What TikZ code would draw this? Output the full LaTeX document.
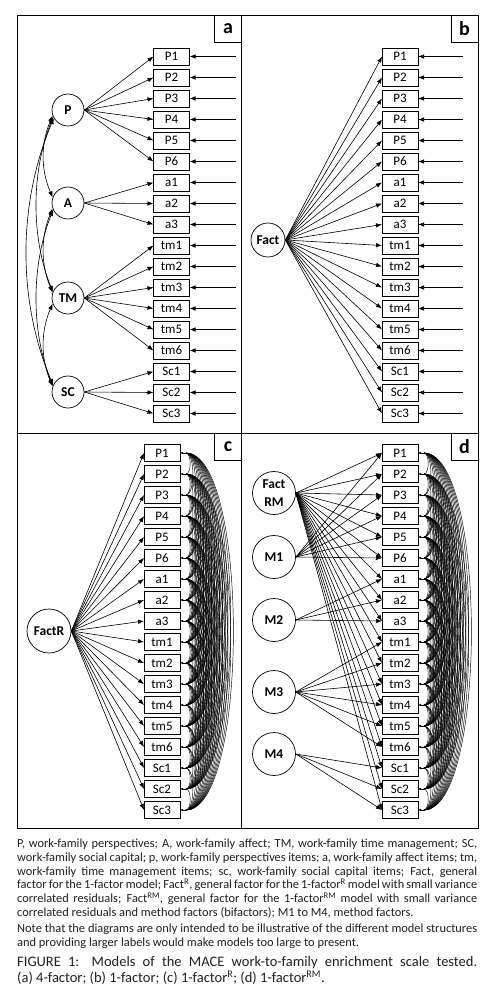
\documentclass[tikz,border=0pt]{standalone}
\usepackage{fontspec}
\setmainfont{Carlito}
\usepackage{xcolor}
\usepackage{tikz}
\usetikzlibrary{arrows.meta,positioning}
\definecolor{InkDark}{HTML}{231F20}
\tikzset{
    itembox/.style={draw, line width=0.8pt, minimum width=36pt, minimum height=17pt,
        inner sep=0pt, outer sep=0pt, font=\fontsize{13}{14}\selectfont},
    factor/.style={draw, circle, line width=0.7pt, inner sep=0pt, minimum size=#1,
        align=center, font=\fontsize{13.5}{18}\selectfont\bfseries},
    load/.style={-{Latex[length=6pt,width=4.5pt]}, line width=0.6pt},
    covar/.style={{Latex[length=6pt,width=4.5pt]}-{Latex[length=6pt,width=4.5pt]}, line width=0.6pt},
    resarc/.style={line width=0.45pt},
    reshead/.style={-{Latex[length=3pt,width=2.5pt]}, line width=0.5pt},
    panelframe/.style={line width=0.8pt},
    panellabel/.style={draw, line width=0.8pt, minimum size=27pt, inner sep=0pt, outer sep=0pt,
        anchor=north east, font=\fontsize{20}{20}\selectfont\bfseries},
    captiontext/.style={anchor=north west, inner sep=0pt, text width=460pt, align=justify,
        text=InkDark, font=\fontsize{12.4}{13.7}\selectfont}
}
\newcommand{\itemcolumn}[3]{%
    \node[itembox] (#11) at (#2,#3) {P1};
    \foreach \lab [count=\k from 2] in {P2,P3,P4,P5,P6,a1,a2,a3,tm1,tm2,tm3,tm4,tm5,tm6,Sc1,Sc2,Sc3} {
        \pgfmathtruncatemacro\prev{\k-1}
        \node[itembox, below=4pt of #1\prev] (#1\k) {\lab};
    }%
}
\newcommand{\errorcolumn}[2]{%
    \foreach \k in {1,...,18} {
        \coordinate (#1e\k) at ([xshift=#2]#1\k.east);
        \draw[load] (#1e\k) -- (#1\k.east);
    }%
}
\newcommand{\residualmesh}[1]{%
    \foreach \k in {1,...,18} {
        \coordinate (#1r\k) at ([xshift=6pt]#1\k.east);
        \draw[reshead] (#1r\k) -- (#1\k.east);
    }
    \foreach \i in {1,...,17} {
        \foreach \j in {2,...,18} {
            \ifnum\j>\i
                \pgfmathsetmacro\reach{3.6*(\j-\i)+2}
                \draw[resarc] (#1r\i) .. controls +(\reach,0) and +(\reach,0) .. (#1r\j);
            \fi
        }
    }%
}

\begin{document}
\begin{tikzpicture}[x=1pt, y=-1pt]
    \useasboundingbox (0,0) rectangle (501,995);
    \draw[panelframe] (17,15) rectangle (478,828);
    \draw[panelframe] (241.5,15) -- (241.5,828);
    \draw[panelframe] (17,433) -- (478,433);
    \node[panellabel] (labA) at (241.5,15) {a};
    \node[panellabel] (labB) at (478,15) {b};
    \node[panellabel] (labC) at (241.5,433) {c};
    \node[panellabel] (labD) at (478,433) {d};

    \itemcolumn{a}{171.5}{56.5}
    \errorcolumn{a}{46pt}
    \node[factor=32pt] (P) at (68,110) {P};
    \node[factor=32pt] (A) at (68,203) {A};
    \node[factor=32pt] (TM) at (68,298) {TM};
    \node[factor=32pt] (SC) at (68,392) {SC};
    \foreach \k in {1,...,6} \draw[load] (P.east) -- (a\k.west);
    \foreach \k in {7,8,9} \draw[load] (A.east) -- (a\k.west);
    \foreach \k in {10,...,15} \draw[load] (TM.east) -- (a\k.west);
    \foreach \k in {16,17,18} \draw[load] (SC.east) -- (a\k.west);
    \draw[covar] (P.200) .. controls +(-12,28) and +(-12,-28) .. (A.160);
    \draw[covar] (A.200) .. controls +(-12,28) and +(-12,-28) .. (TM.160);
    \draw[covar] (TM.200) .. controls +(-12,28) and +(-12,-28) .. (SC.160);
    \draw[covar] (P.205) .. controls +(-22,55) and +(-22,-55) .. (TM.158);
    \draw[covar] (A.205) .. controls +(-22,55) and +(-22,-55) .. (SC.158);
    \draw[covar] (P.210) .. controls +(-36,85) and +(-36,-85) .. (SC.155);

    \itemcolumn{b}{400}{56.5}
    \errorcolumn{b}{45pt}
    \node[factor=34pt] (Fact) at (268,240) {Fact};
    \foreach \k in {1,...,18} \draw[load] (Fact.east) -- (b\k.west);

    \itemcolumn{c}{162}{453}
    \residualmesh{c}
    \node[factor=44pt] (FactR) at (49,631) {FactR};
    \foreach \k in {1,...,18} \draw[load] (FactR.east) -- (c\k.west);

    \itemcolumn{d}{400}{453}
    \residualmesh{d}
    \node[factor=43pt] (FactRM) at (274,493) {Fact\\RM};
    \node[factor=43pt] (M1) at (274,557) {M1};
    \node[factor=43pt] (M2) at (274,620) {M2};
    \node[factor=43pt] (M3) at (274,692) {M3};
    \node[factor=43pt] (M4) at (274,754) {M4};
    \foreach \k in {1,...,18} \draw[load] (FactRM.east) -- (d\k.west);
    \foreach \k in {1,...,6} \draw[load] (M1.east) -- (d\k.west);
    \foreach \k in {7,8,9} \draw[load] (M2.east) -- (d\k.west);
    \foreach \k in {10,...,15} \draw[load] (M3.east) -- (d\k.west);
    \foreach \k in {16,17,18} \draw[load] (M4.east) -- (d\k.west);

    \node[captiontext] (notes) at (17,839) {P, work-family perspectives; A, work-family affect; TM, work-family time management; SC,\linebreak
        work-family social capital; p, work-family perspectives items; a, work-family affect items; tm,\linebreak
        work-family time management items; sc, work-family social capital items; Fact, general\linebreak
        factor for the 1-factor model; Fact\textsuperscript{R}, general factor for the 1-factor\textsuperscript{R} model with small variance\linebreak
        correlated residuals; Fact\textsuperscript{RM}, general factor for the 1-factor\textsuperscript{RM} model with small variance\linebreak
        correlated residuals and method factors (bifactors); M1 to M4, method factors.};
    \node[captiontext] (remark) at (17,924) {Note that the diagrams are only intended to be illustrative of the different model structures\linebreak
        and providing larger labels would make models too large to present.};
    \node[captiontext, font=\fontsize{14.5}{15.5}\selectfont] (figcap) at (17,956.5) {FIGURE 1: Models of the MACE work-to-family enrichment scale tested.\linebreak
        (a) 4-factor; (b) 1-factor; (c) 1-factor\textsuperscript{R}; (d) 1-factor\textsuperscript{RM}.};
\end{tikzpicture}
\end{document}
